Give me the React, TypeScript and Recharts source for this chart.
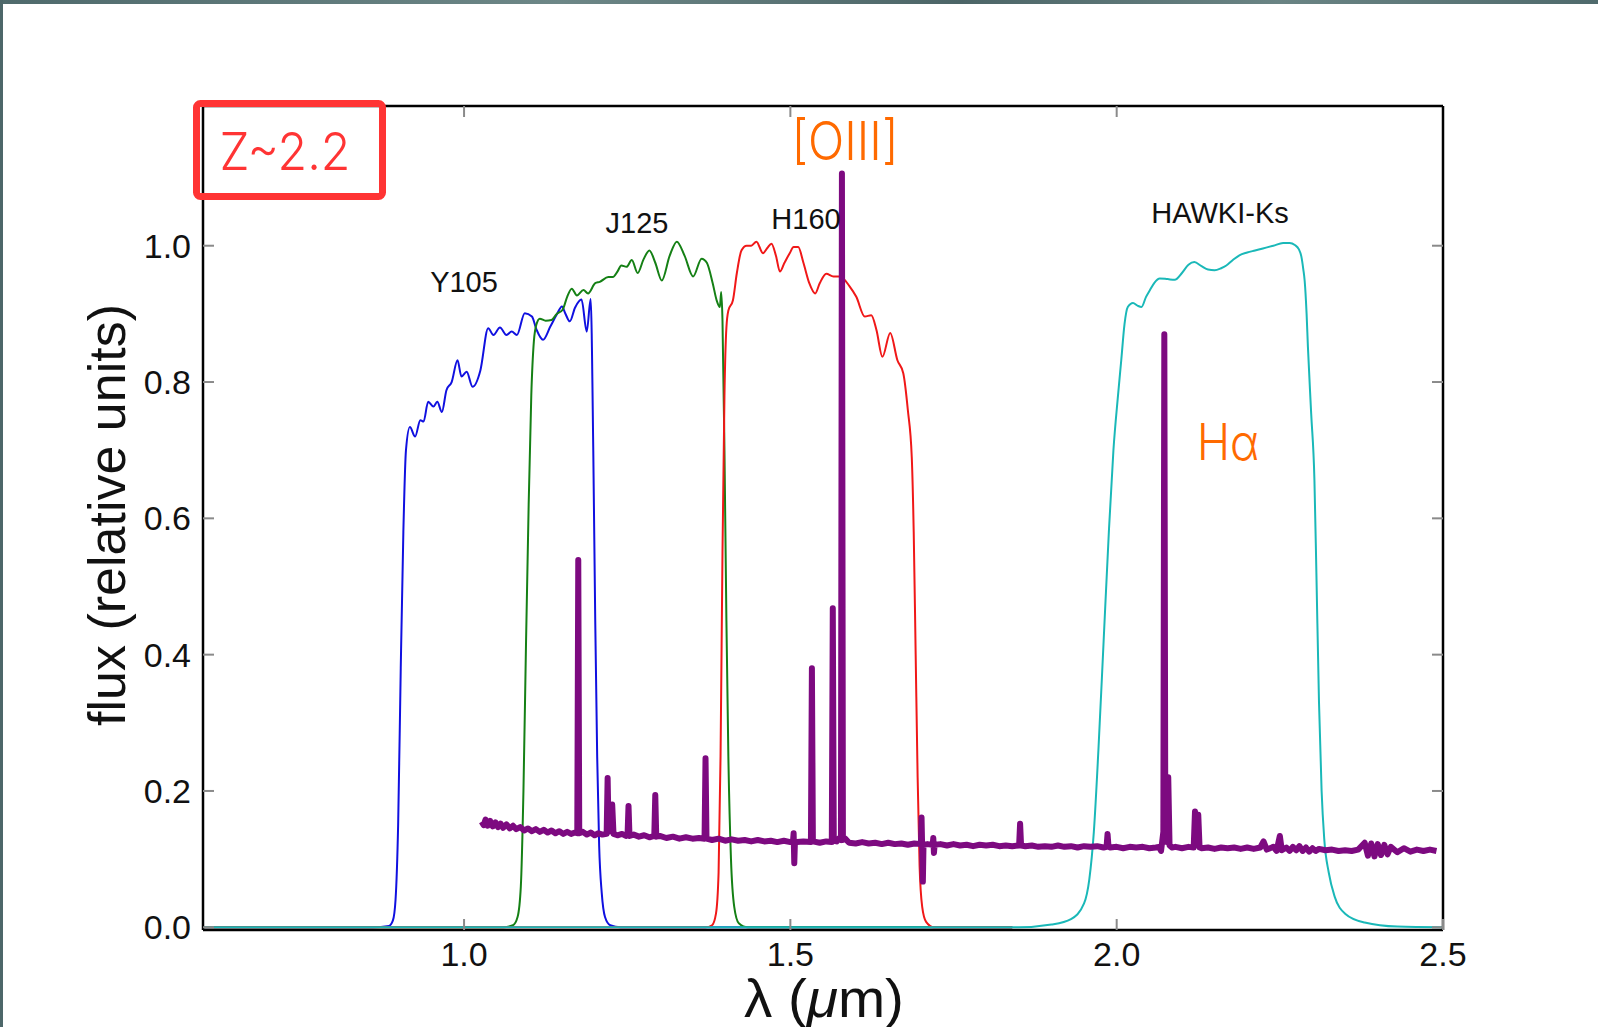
import React from 'react';
import { LineChart, Line, XAxis, YAxis, Label } from 'recharts';

const W = 1598;
const H = 1027;
const FONT = '"Liberation Sans", Arial, Helvetica, sans-serif';
const HAND = 'Inter, "Open Sans", "DejaVu Sans", sans-serif';

// axis ticks
const xTicks = [1.0, 1.5, 2.0, 2.5];
const yTicks = [0.0, 0.2, 0.4, 0.6, 0.8, 1.0];

// Y105 filter (blue)
const y105Wave = [0.6, 0.86, 0.885, 0.891, 0.895, 0.899, 0.903, 0.907, 0.911, 0.917, 0.925, 0.933, 0.938, 0.945, 0.953, 0.959, 0.966, 0.973, 0.981, 0.99, 0.996, 1.004, 1.013, 1.025, 1.037, 1.045, 1.055, 1.065, 1.073, 1.081, 1.093, 1.104, 1.111, 1.121, 1.132, 1.142, 1.15, 1.155, 1.162, 1.17, 1.18, 1.188, 1.194, 1.198, 1.201, 1.204, 1.207, 1.211, 1.216, 1.224, 1.24, 1.84];
const y105Flux = [0, 0, 0.002, 0.01, 0.04, 0.15, 0.38, 0.58, 0.7, 0.734, 0.72, 0.744, 0.742, 0.771, 0.764, 0.771, 0.756, 0.788, 0.8, 0.832, 0.808, 0.815, 0.793, 0.817, 0.879, 0.869, 0.88, 0.869, 0.874, 0.869, 0.901, 0.896, 0.877, 0.862, 0.881, 0.899, 0.911, 0.901, 0.889, 0.909, 0.921, 0.874, 0.922, 0.7, 0.45, 0.25, 0.12, 0.05, 0.015, 0.003, 0, 0];

// J125 filter (green)
const j125Wave = [0.6, 1.06, 1.075, 1.082, 1.087, 1.091, 1.095, 1.099, 1.103, 1.107, 1.111, 1.116, 1.125, 1.134, 1.142, 1.151, 1.158, 1.165, 1.173, 1.183, 1.19, 1.201, 1.208, 1.221, 1.228, 1.235, 1.241, 1.249, 1.257, 1.266, 1.275, 1.284, 1.293, 1.303, 1.315, 1.326, 1.338, 1.351, 1.364, 1.372, 1.381, 1.387, 1.392, 1.394, 1.396, 1.399, 1.402, 1.405, 1.409, 1.414, 1.421, 1.435, 1.84];
const j125Flux = [0, 0, 0.003, 0.015, 0.06, 0.2, 0.42, 0.62, 0.78, 0.86, 0.885, 0.893, 0.89, 0.891, 0.9, 0.906, 0.925, 0.937, 0.927, 0.935, 0.93, 0.945, 0.947, 0.954, 0.954, 0.962, 0.971, 0.969, 0.979, 0.96, 0.98, 0.993, 0.975, 0.949, 0.985, 1.006, 0.985, 0.955, 0.981, 0.975, 0.945, 0.92, 0.91, 0.932, 0.89, 0.7, 0.45, 0.25, 0.1, 0.03, 0.006, 0, 0];

// H160 filter (red)
const h160Wave = [0.6, 1.37, 1.38, 1.386, 1.39, 1.393, 1.396, 1.399, 1.402, 1.405, 1.412, 1.418, 1.425, 1.433, 1.44, 1.448, 1.458, 1.465, 1.471, 1.478, 1.484, 1.491, 1.499, 1.505, 1.512, 1.52, 1.529, 1.538, 1.545, 1.555, 1.566, 1.576, 1.591, 1.601, 1.614, 1.624, 1.632, 1.641, 1.653, 1.664, 1.673, 1.68, 1.686, 1.689, 1.692, 1.695, 1.698, 1.702, 1.708, 1.72, 1.84];
const h160Flux = [0, 0, 0.003, 0.02, 0.08, 0.25, 0.55, 0.78, 0.88, 0.905, 0.92, 0.96, 0.993, 1.0, 1.0, 1.006, 0.989, 0.997, 1.003, 0.985, 0.962, 0.975, 0.989, 0.998, 0.998, 0.975, 0.945, 0.93, 0.945, 0.959, 0.955, 0.955, 0.94, 0.925, 0.896, 0.898, 0.876, 0.837, 0.872, 0.832, 0.813, 0.759, 0.69, 0.58, 0.4, 0.22, 0.09, 0.03, 0.008, 0, 0];

// HAWKI-Ks filter (cyan)
const ksWave = [0.6, 1.85, 1.9, 1.93, 1.95, 1.958, 1.965, 1.972, 1.98, 1.988, 1.995, 2.002, 2.007, 2.012, 2.017, 2.025, 2.032, 2.038, 2.045, 2.051, 2.058, 2.066, 2.078, 2.089, 2.1, 2.11, 2.119, 2.13, 2.14, 2.15, 2.16, 2.168, 2.178, 2.188, 2.2, 2.212, 2.224, 2.24, 2.255, 2.265, 2.273, 2.279, 2.283, 2.286, 2.288, 2.291, 2.293, 2.298, 2.303, 2.306, 2.31, 2.314, 2.318, 2.325, 2.334, 2.35, 2.38, 2.43, 2.5];
const ksFlux = [0, 0, 0.004, 0.012, 0.035, 0.07, 0.14, 0.26, 0.42, 0.58, 0.7, 0.78, 0.832, 0.885, 0.91, 0.916, 0.912, 0.91, 0.925, 0.935, 0.946, 0.952, 0.951, 0.95, 0.96, 0.972, 0.976, 0.97, 0.965, 0.964, 0.967, 0.971, 0.979, 0.986, 0.99, 0.993, 0.996, 1.0, 1.004, 1.004, 1.001, 0.995, 0.984, 0.965, 0.949, 0.9, 0.852, 0.754, 0.656, 0.52, 0.33, 0.2, 0.13, 0.08, 0.045, 0.02, 0.007, 0.001, 0];

// galaxy spectrum at z~2.2 (purple)
const specWave = [1.027, 1.03, 1.033, 1.036, 1.04, 1.044, 1.048, 1.052, 1.056, 1.06, 1.065, 1.07, 1.075, 1.08, 1.086, 1.092, 1.098, 1.104, 1.11, 1.116, 1.122, 1.128, 1.134, 1.14, 1.146, 1.152, 1.158, 1.164, 1.17, 1.1735, 1.175, 1.1765, 1.182, 1.188, 1.194, 1.2, 1.206, 1.212, 1.2185, 1.22, 1.2215, 1.225, 1.227, 1.229, 1.235, 1.242, 1.248, 1.2505, 1.252, 1.2535, 1.26, 1.268, 1.276, 1.284, 1.2915, 1.293, 1.2945, 1.3, 1.31, 1.32, 1.33, 1.34, 1.35, 1.36, 1.3685, 1.37, 1.3715, 1.38, 1.39, 1.4, 1.41, 1.42, 1.43, 1.44, 1.45, 1.46, 1.47, 1.48, 1.49, 1.5, 1.504, 1.505, 1.506, 1.507, 1.51, 1.52, 1.5315, 1.533, 1.5345, 1.545, 1.555, 1.5635, 1.565, 1.5665, 1.571, 1.574, 1.5775, 1.579, 1.5805, 1.584, 1.59, 1.6, 1.61, 1.62, 1.63, 1.64, 1.65, 1.66, 1.67, 1.68, 1.69, 1.7, 1.701, 1.703, 1.704, 1.71, 1.718, 1.719, 1.72, 1.721, 1.73, 1.74, 1.75, 1.76, 1.77, 1.78, 1.79, 1.8, 1.81, 1.82, 1.83, 1.84, 1.8505, 1.852, 1.8535, 1.86, 1.87, 1.88, 1.89, 1.9, 1.91, 1.92, 1.93, 1.94, 1.95, 1.96, 1.97, 1.98, 1.9845, 1.986, 1.9875, 1.99, 2.0, 2.01, 2.02, 2.03, 2.04, 2.05, 2.06, 2.065, 2.068, 2.0715, 2.073, 2.0745, 2.077, 2.079, 2.081, 2.085, 2.09, 2.1, 2.11, 2.118, 2.12, 2.122, 2.125, 2.127, 2.13, 2.14, 2.15, 2.16, 2.17, 2.18, 2.19, 2.2, 2.21, 2.22, 2.225, 2.23, 2.24, 2.245, 2.25, 2.253, 2.26, 2.265, 2.27, 2.275, 2.28, 2.285, 2.29, 2.295, 2.3, 2.305, 2.31, 2.32, 2.33, 2.34, 2.35, 2.36, 2.37, 2.38, 2.385, 2.39, 2.395, 2.4, 2.405, 2.41, 2.415, 2.42, 2.43, 2.44, 2.45, 2.46, 2.47, 2.48, 2.49];
const specFlux = [0.155, 0.15, 0.158, 0.149, 0.156, 0.148, 0.154, 0.147, 0.152, 0.146, 0.151, 0.145, 0.149, 0.144, 0.147, 0.142, 0.145, 0.141, 0.144, 0.14, 0.143, 0.139, 0.142, 0.138, 0.141, 0.137, 0.14, 0.137, 0.139, 0.138, 0.539, 0.138, 0.14, 0.136, 0.139, 0.135, 0.138, 0.136, 0.137, 0.219, 0.14, 0.145, 0.18, 0.137, 0.135, 0.137, 0.134, 0.135, 0.178, 0.134, 0.136, 0.133, 0.135, 0.132, 0.134, 0.194, 0.133, 0.134, 0.131, 0.133, 0.13, 0.132, 0.13, 0.131, 0.13, 0.248, 0.13, 0.128, 0.13, 0.127, 0.129, 0.127, 0.128, 0.126, 0.128, 0.126, 0.127, 0.125, 0.127, 0.125, 0.126, 0.138, 0.094, 0.126, 0.125, 0.126, 0.125, 0.38, 0.126, 0.124, 0.126, 0.125, 0.468, 0.127, 0.126, 0.13, 0.128, 1.106, 0.128, 0.13, 0.124, 0.123, 0.125, 0.123, 0.124, 0.122, 0.124, 0.122, 0.123, 0.121, 0.123, 0.122, 0.161, 0.067, 0.121, 0.122, 0.121, 0.131, 0.109, 0.121, 0.122, 0.12, 0.122, 0.12, 0.121, 0.119, 0.121, 0.12, 0.121, 0.119, 0.12, 0.119, 0.12, 0.152, 0.12, 0.119, 0.12, 0.118, 0.119, 0.118, 0.12, 0.118, 0.119, 0.117, 0.119, 0.118, 0.119, 0.117, 0.118, 0.137, 0.118, 0.117, 0.118, 0.116, 0.118, 0.117, 0.118, 0.116, 0.117, 0.118, 0.112, 0.14, 0.87, 0.14, 0.125, 0.22, 0.12, 0.117, 0.118, 0.116, 0.118, 0.117, 0.17, 0.13, 0.165, 0.117, 0.116, 0.117, 0.115, 0.117, 0.116, 0.117, 0.115, 0.117, 0.115, 0.117, 0.126, 0.114, 0.118, 0.112, 0.134, 0.113, 0.117, 0.112, 0.118, 0.113, 0.119, 0.112, 0.117, 0.111, 0.116, 0.112, 0.115, 0.113, 0.114, 0.112, 0.113, 0.112, 0.114, 0.124, 0.105, 0.123, 0.104, 0.122, 0.106, 0.121, 0.107, 0.118, 0.11, 0.116, 0.111, 0.114, 0.112, 0.114, 0.112, 0.113, 0.112];

const toData = (w: number[], f: number[]) => w.map((x, i) => ({ x, f: f[i] }));
const y105Data = toData(y105Wave, y105Flux);
const j125Data = toData(j125Wave, j125Flux);
const h160Data = toData(h160Wave, h160Flux);
const ksData = toData(ksWave, ksFlux);
const specData = toData(specWave, specFlux);

const fmt = (v: number) => v.toFixed(1);
const NoLabel = () => <g />;

const XTitle = (props: any) => {
  const vb = props.viewBox || { x: 203, y: 930, width: 1240, height: 97 };
  return (
    <text x={vb.x + vb.width / 2 + 1} y={vb.y + 87} textAnchor="middle" fontFamily={FONT} fontSize={53} fill="#111" textLength={160} lengthAdjust="spacingAndGlyphs">
      λ (<tspan fontStyle="italic">μ</tspan>m)
    </text>
  );
};

const YTitle = (props: any) => {
  const vb = props.viewBox || { x: 0, y: 106, width: 203, height: 824 };
  const cx = 125;
  const cy = vb.y + vb.height / 2 - 3;
  return (
    <text x={cx} y={cy} transform={`rotate(-90 ${cx} ${cy})`} textAnchor="middle" fontFamily={FONT} fontSize={52} fill="#111">
      flux (relative units)
    </text>
  );
};

const tickStyle = { fill: '#111', fontSize: 34, fontFamily: FONT };
const frame = { stroke: '#000', strokeWidth: 2.5 };
const tickLn = { stroke: '#8a8a8a', strokeWidth: 2 };
const yDomain: [number, number] = [-0.004, 1.205];
const xDomain: [number, number] = [0.6, 2.5];

export default function App() {
  return (
    <div style={{ position: 'absolute', left: 0, top: 0, width: W, height: H, background: '#fff', overflow: 'hidden' }}>
      <div style={{ position: 'absolute', left: 0, top: 0, width: W, height: 4, background: 'linear-gradient(90deg, #4f6a6c, #6d8787 35%, #4c6567 60%, #6a8484 80%, #4f6a6c)' }} />
      <div style={{ position: 'absolute', left: 0, top: 0, width: 3, height: H, background: '#4d6769' }} />
      <LineChart width={W} height={H} margin={{ top: 105, right: 154, bottom: 0, left: 0 }}>
        <XAxis xAxisId="t" orientation="top" type="number" dataKey="x" domain={xDomain} ticks={xTicks} allowDataOverflow interval={0} height={1} tick={NoLabel} tickSize={-11} tickLine={tickLn} axisLine={frame} />
        <YAxis yAxisId="r" orientation="right" type="number" dataKey="f" domain={yDomain} ticks={yTicks} allowDataOverflow interval={0} width={1} tick={NoLabel} tickSize={-11} tickLine={tickLn} axisLine={frame} />
        <XAxis xAxisId="b" type="number" dataKey="x" domain={xDomain} ticks={xTicks} allowDataOverflow interval={0} height={97} tickFormatter={fmt} tick={tickStyle} tickSize={-11} tickMargin={23} tickLine={tickLn} axisLine={frame}>
          <Label content={XTitle} />
        </XAxis>
        <YAxis yAxisId="l" type="number" dataKey="f" domain={yDomain} ticks={yTicks} allowDataOverflow interval={0} width={203} tickFormatter={fmt} tick={tickStyle} tickSize={-11} tickMargin={23} tickLine={tickLn} axisLine={frame}>
          <Label content={YTitle} />
        </YAxis>
        <Line xAxisId="b" yAxisId="l" data={y105Data} dataKey="f" type="monotone" stroke="#1010e0" strokeWidth={2} dot={false} isAnimationActive={false} />
        <Line xAxisId="b" yAxisId="l" data={j125Data} dataKey="f" type="monotone" stroke="#158015" strokeWidth={2} dot={false} isAnimationActive={false} />
        <Line xAxisId="b" yAxisId="l" data={h160Data} dataKey="f" type="monotone" stroke="#f01818" strokeWidth={2} dot={false} isAnimationActive={false} />
        <Line xAxisId="b" yAxisId="l" data={ksData} dataKey="f" type="monotone" stroke="#1ab8b8" strokeWidth={2} dot={false} isAnimationActive={false} />
        <Line xAxisId="b" yAxisId="l" data={specData} dataKey="f" type="linear" stroke="#7d0a80" strokeWidth={6} strokeLinejoin="round" dot={false} isAnimationActive={false} />
      </LineChart>
      <svg width={W} height={H} style={{ position: 'absolute', left: 0, top: 0, pointerEvents: 'none' }}>
        <rect x={196.5} y={103.5} width={186} height={93} rx={4} fill="none" stroke="#ff3434" strokeWidth={7} />
        <text x={285} y={170} textAnchor="middle" fontFamily={HAND} fontWeight={300} fontSize={52} fill="#ff3434" textLength={131} lengthAdjust="spacingAndGlyphs">Z~2.2</text>
        <text x={845} y={160} textAnchor="middle" fontFamily={HAND} fontWeight={300} fontSize={53} fill="#ff6a00" textLength={107} lengthAdjust="spacingAndGlyphs">[OIII]</text>
        <text x={1228} y={460} textAnchor="middle" fontFamily={HAND} fontWeight={300} fontSize={50} fill="#ff6a00" textLength={62} lengthAdjust="spacingAndGlyphs">Hα</text>
        <text x={464} y={292} textAnchor="middle" fontFamily={FONT} fontSize={29} fill="#111">Y105</text>
        <text x={637} y={233} textAnchor="middle" fontFamily={FONT} fontSize={29} fill="#111">J125</text>
        <text x={806} y={229} textAnchor="middle" fontFamily={FONT} fontSize={29} fill="#111">H160</text>
        <text x={1220} y={223} textAnchor="middle" fontFamily={FONT} fontSize={29} fill="#111">HAWKI-Ks</text>
      </svg>
    </div>
  );
}
